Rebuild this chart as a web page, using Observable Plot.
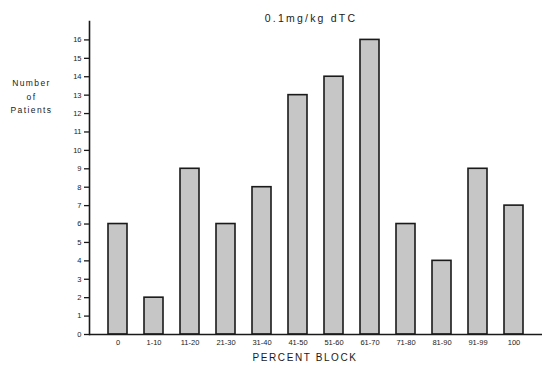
<!DOCTYPE html>
<html>
<head>
<meta charset="utf-8">
<script src="https://cdn.jsdelivr.net/npm/d3@7"></script>
<script src="https://cdn.jsdelivr.net/npm/@observablehq/plot@0.6"></script>
<style>
  html, body { margin: 0; padding: 0; background: #fff; }
  #chart svg { display: block; }
</style>
</head>
<body>
<div id="chart"></div>
<script>
const categories = ["0", "1-10", "11-20", "21-30", "31-40", "41-50", "51-60", "61-70", "71-80", "81-90", "91-99", "100"];
const patients = [6, 2, 9, 6, 8, 13, 14, 16, 6, 4, 9, 7];
const yTicks = [0, 1, 2, 3, 4, 5, 6, 7, 8, 9, 10, 11, 12, 13, 14, 15, 16];
const title = "0.1mg/kg dTC";
const xLabel = "PERCENT BLOCK";
const yLabel = "Number\nof\nPatients";

const data = categories.map((c, i) => ({block: c, n: patients[i]}));

const chart = Plot.plot({
  width: 542,
  height: 368,
  marginTop: 21,
  marginBottom: 34,
  marginLeft: 89,
  marginRight: 0,
  style: {fontFamily: "'Liberation Sans', sans-serif", color: "#1a1a1a", background: "#fff"},
  x: {domain: categories, paddingInner: 0.47, paddingOuter: 0.5, label: null},
  y: {domain: [0, 17], label: null},
  marks: [
    Plot.barY(data, {x: "block", y: "n", fill: "#c6c6c6", stroke: "#1a1a1a", strokeWidth: 1.6}),
    Plot.axisY({ticks: yTicks, tickSize: 5, tickPadding: 3, fontSize: 7.5, strokeWidth: 1.3, label: null}),
    Plot.axisX({tickSize: 0, tickPadding: 5, fontSize: 7.5, label: null}),
    Plot.frame({anchor: "left", stroke: "#1a1a1a", strokeWidth: 1.6}),
    Plot.ruleY([0], {stroke: "#1a1a1a", strokeWidth: 1.6}),
    Plot.text([title], {frameAnchor: "top", dx: -5, dy: -7, fontSize: 10.5, fill: "#1a1a1a"}),
    Plot.text([xLabel], {frameAnchor: "bottom", dx: -11, dy: 26, fontSize: 10, fill: "#1a1a1a"}),
    Plot.text([yLabel], {frameAnchor: "top-left", dx: -58, dy: 55, textAnchor: "middle", lineHeight: 1.6, fontSize: 8.5, fill: "#1a1a1a"})
  ]
});
const spacing = new Map([[title, "2.2px"], [xLabel, "1.6px"], [yLabel.replace(/\n/g, ""), "1.4px"]]);
d3.select(chart).selectAll("text").each(function () {
  const s = spacing.get(this.textContent);
  if (s) this.style.letterSpacing = s;
});
document.getElementById("chart").append(chart);
</script>
</body>
</html>
